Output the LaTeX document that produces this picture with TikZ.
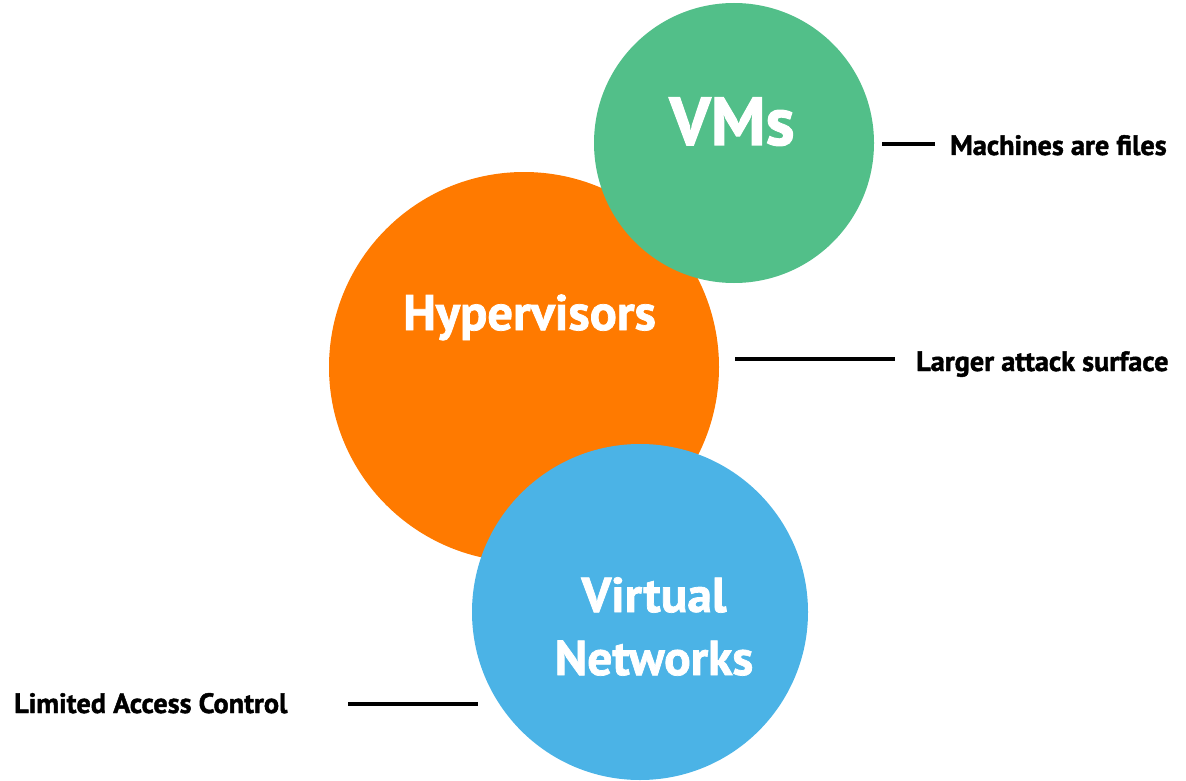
\documentclass[tikz,border=0pt]{standalone}
\usepackage{fontspec}
\newfontfamily\lblfont{PT Sans}[FakeStretch=1.01,BoldFeatures={FakeBold=1.5}]
\definecolor{vmgreen}{RGB}{82,191,137}
\definecolor{hvorange}{RGB}{255,122,0}
\definecolor{vnblue}{RGB}{75,179,230}
\begin{document}
\begin{tikzpicture}[x=1pt,y=-1pt,
  disc/.style={circle,inner sep=0pt,minimum size=#1},
  bigtext/.style={text=white,font=\lblfont\bfseries\fontsize{#1}{#1}\selectfont,anchor=base,inner sep=0pt},
  sidetext/.style={text=black,font=\lblfont\bfseries\fontsize{28}{28}\selectfont,anchor=base west,inner sep=0pt},
  leader/.style={line width=4pt,black}]
\useasboundingbox (0,0) rectangle (1186,781);
% circles
\node[disc=390pt,fill=hvorange] (hv) at (524,367) {};
\node[disc=280pt,fill=vmgreen] (vm) at (734,143) {};
\node[disc=336pt,fill=vnblue] (vn) at (640,612) {};
% circle texts
\node[bigtext=68] (vmt) at (732,145) {VMs};
\node[bigtext=50] (hvt) at (529.5,330) {Hypervisors};
\node[bigtext=49] (vnt1) at (654,612) {Virtual};
\node[bigtext=49] (vnt2) at (654,675) {Networks};
% side labels
\node[sidetext] (l1) at (950,155) {Machines are files};
\node[sidetext] (l2) at (916,371) {Larger attack surface};
\node[sidetext] (l3) at (14,713) {Limited Access Control};
% leaders
\coordinate (a1) at (882,144);
\coordinate (b1) at (935,144);
\coordinate (a2) at (735,359);
\coordinate (b2) at (895,359);
\coordinate (a3) at (348,704);
\coordinate (b3) at (478,704);
\draw[leader] (a1) -- (b1);
\draw[leader] (a2) -- (b2);
\draw[leader] (a3) -- (b3);
\end{tikzpicture}
\end{document}
